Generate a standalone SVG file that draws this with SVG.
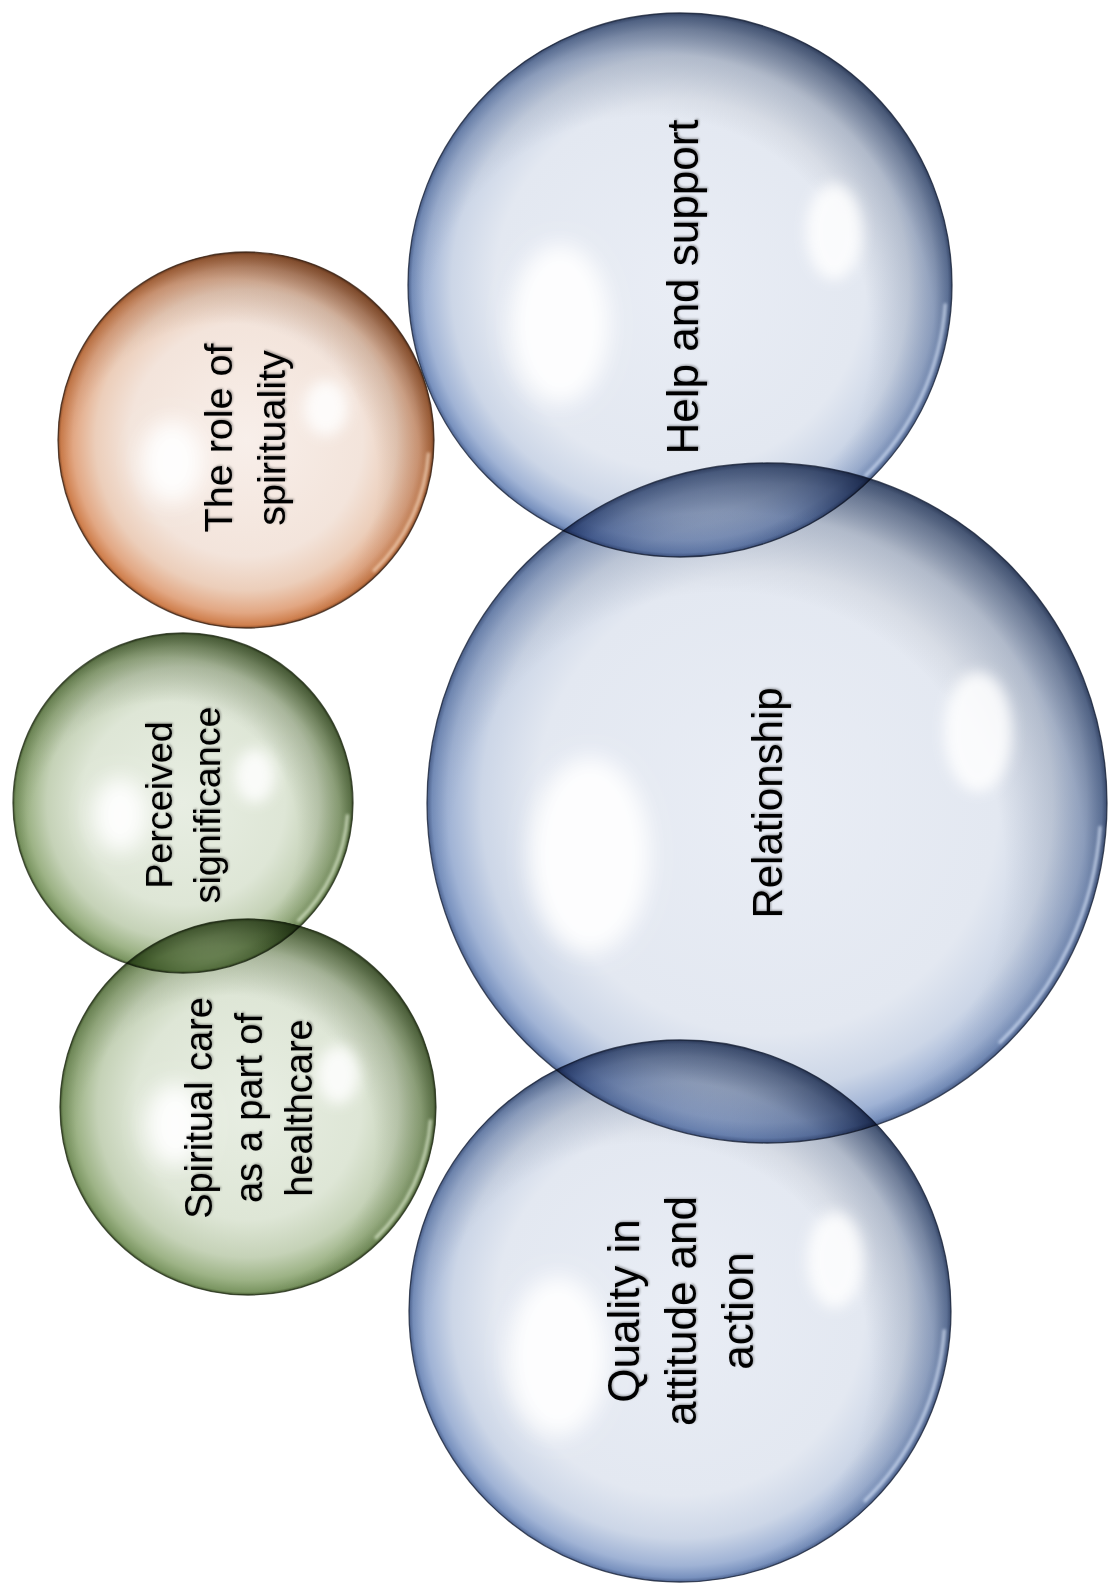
<svg xmlns="http://www.w3.org/2000/svg" width="1112" height="1585" viewBox="0 0 1112 1585">
<defs>
  <style>
    .bubble { mix-blend-mode: multiply; }
    .hlL { fill: #ffffff; opacity: 0.95; filter: url(#blurL); }
    .hlS { fill: #ffffff; opacity: 0.85; filter: url(#blurS); }
    .rim { fill: none; stroke-width: 3; opacity: 0.7; stroke-dasharray: 42 318; stroke-dashoffset: -4; filter: url(#blurR); }
    .edge { fill: none; stroke-width: 1.3; opacity: 0.8; }
    .blue .rim { stroke: #e2edff; }
    .blue .edge { stroke: #1c263b; }
    .orange .rim { stroke: #ffe6cf; }
    .orange .edge { stroke: #3a2315; }
    .green .rim { stroke: #eef9df; }
    .green .edge { stroke: #25311a; }
    text { font-family: "Liberation Sans", Arial, sans-serif; fill: #000000; text-anchor: middle; filter: url(#tshadow); }
  </style>
  <filter id="blurL" x="-60%" y="-60%" width="220%" height="220%"><feGaussianBlur stdDeviation="11"/></filter>
  <filter id="blurS" x="-60%" y="-60%" width="220%" height="220%"><feGaussianBlur stdDeviation="7"/></filter>
  <filter id="blurR" x="-20%" y="-20%" width="140%" height="140%"><feGaussianBlur stdDeviation="1.8"/></filter>
  <filter id="tshadow" x="-10%" y="-30%" width="120%" height="160%">
    <feDropShadow dx="1" dy="1" stdDeviation="1.2" flood-color="#000000" flood-opacity="0.35"/>
  </filter>

  <radialGradient id="bBlue" cx=".5" cy=".5" r=".5">
    <stop offset="0" stop-color="#e9edf5"/>
    <stop offset=".68" stop-color="#e3e8f1"/>
    <stop offset=".84" stop-color="#ccd6e7"/>
    <stop offset=".94" stop-color="#a0b3d5"/>
    <stop offset=".985" stop-color="#7891be"/>
    <stop offset="1" stop-color="#4d6390"/>
  </radialGradient>
  <radialGradient id="dBlue" cx=".44" cy=".6" r=".66" fx=".44" fy=".6">
    <stop offset="0" stop-color="#121826" stop-opacity="0"/>
    <stop offset=".62" stop-color="#121826" stop-opacity="0"/>
    <stop offset=".8" stop-color="#121826" stop-opacity=".15"/>
    <stop offset=".93" stop-color="#121826" stop-opacity=".5"/>
    <stop offset="1" stop-color="#121826" stop-opacity=".92"/>
  </radialGradient>

  <radialGradient id="bOrange" cx=".5" cy=".5" r=".5">
    <stop offset="0" stop-color="#f8efea"/>
    <stop offset=".62" stop-color="#f3e4db"/>
    <stop offset=".8" stop-color="#ecceba"/>
    <stop offset=".92" stop-color="#e2a783"/>
    <stop offset=".985" stop-color="#cf7f4d"/>
    <stop offset="1" stop-color="#8a4d2a"/>
  </radialGradient>
  <radialGradient id="dOrange" cx=".44" cy=".6" r=".66" fx=".44" fy=".6">
    <stop offset="0" stop-color="#2a160c" stop-opacity="0"/>
    <stop offset=".62" stop-color="#2a160c" stop-opacity="0"/>
    <stop offset=".8" stop-color="#2a160c" stop-opacity=".15"/>
    <stop offset=".93" stop-color="#2a160c" stop-opacity=".5"/>
    <stop offset="1" stop-color="#2a160c" stop-opacity=".92"/>
  </radialGradient>

  <radialGradient id="bGreen" cx=".5" cy=".5" r=".5">
    <stop offset="0" stop-color="#e8eee3"/>
    <stop offset=".6" stop-color="#dee6d6"/>
    <stop offset=".8" stop-color="#c5d2b7"/>
    <stop offset=".92" stop-color="#9db386"/>
    <stop offset=".985" stop-color="#7a9561"/>
    <stop offset="1" stop-color="#44582f"/>
  </radialGradient>
  <radialGradient id="dGreen" cx=".44" cy=".6" r=".66" fx=".44" fy=".6">
    <stop offset="0" stop-color="#18220f" stop-opacity="0"/>
    <stop offset=".6" stop-color="#18220f" stop-opacity="0"/>
    <stop offset=".8" stop-color="#18220f" stop-opacity=".18"/>
    <stop offset=".93" stop-color="#18220f" stop-opacity=".52"/>
    <stop offset="1" stop-color="#18220f" stop-opacity=".9"/>
  </radialGradient>
</defs>

<rect width="1112" height="1585" fill="#ffffff"/>

<g id="node-help" class="bubble blue">
  <circle cx="680" cy="285" r="272" fill="url(#bBlue)"/>
  <circle cx="680" cy="285" r="272" fill="url(#dBlue)"/>
  <ellipse class="hlL" cx="560" cy="324" rx="50" ry="80"/>
  <ellipse class="hlS" cx="834" cy="232" rx="28" ry="48"/>
  <circle class="rim" cx="680" cy="285" r="266" pathLength="360"/>
  <circle class="edge" cx="680" cy="285" r="272"/>
  <text transform="translate(698,287) rotate(-90)" font-size="44">Help and support</text>
</g>

<g id="node-relationship" class="bubble blue">
  <circle cx="767" cy="803" r="340" fill="url(#bBlue)"/>
  <circle cx="767" cy="803" r="340" fill="url(#dBlue)"/>
  <ellipse class="hlL" cx="590" cy="855" rx="60" ry="98"/>
  <ellipse class="hlS" cx="978" cy="732" rx="34" ry="60"/>
  <circle class="rim" cx="767" cy="803" r="334" pathLength="360"/>
  <circle class="edge" cx="767" cy="803" r="340"/>
  <text transform="translate(782,803) rotate(-90)" font-size="42">Relationship</text>
</g>

<g id="node-quality" class="bubble blue">
  <circle cx="680" cy="1311" r="271" fill="url(#bBlue)"/>
  <circle cx="680" cy="1311" r="271" fill="url(#dBlue)"/>
  <ellipse class="hlL" cx="558" cy="1356" rx="50" ry="80"/>
  <ellipse class="hlS" cx="835" cy="1260" rx="28" ry="48"/>
  <circle class="rim" cx="680" cy="1311" r="265" pathLength="360"/>
  <circle class="edge" cx="680" cy="1311" r="271"/>
  <text transform="translate(639,1311) rotate(-90)" font-size="44"><tspan x="0" y="0">Quality in</tspan><tspan x="0" dy="57">attitude and</tspan><tspan x="0" dy="57">action</tspan></text>
</g>

<g id="node-role" class="bubble orange">
  <circle cx="246" cy="440" r="188" fill="url(#bOrange)"/>
  <circle cx="246" cy="440" r="188" fill="url(#dOrange)"/>
  <ellipse class="hlL" cx="172" cy="462" rx="32" ry="42"/>
  <ellipse class="hlS" cx="326" cy="408" rx="22" ry="28"/>
  <circle class="rim" cx="246" cy="440" r="183" pathLength="360"/>
  <circle class="edge" cx="246" cy="440" r="188"/>
  <text transform="translate(232,438) rotate(-90)" font-size="39.5"><tspan x="0" y="0">The role of</tspan><tspan x="0" dy="53">spirituality</tspan></text>
</g>

<g id="node-perceived" class="bubble green">
  <circle cx="183" cy="803" r="170" fill="url(#bGreen)"/>
  <circle cx="183" cy="803" r="170" fill="url(#dGreen)"/>
  <ellipse class="hlL" cx="120" cy="815" rx="28" ry="38"/>
  <ellipse class="hlS" cx="255" cy="776" rx="20" ry="27"/>
  <circle class="rim" cx="183" cy="803" r="165" pathLength="360"/>
  <circle class="edge" cx="183" cy="803" r="170"/>
  <text transform="translate(172,805) rotate(-90)" font-size="37.7"><tspan x="0" y="0">Perceived</tspan><tspan x="0" dy="48">significance</tspan></text>
</g>

<g id="node-spiritual-care" class="bubble green">
  <circle cx="248" cy="1107" r="188" fill="url(#bGreen)"/>
  <circle cx="248" cy="1107" r="188" fill="url(#dGreen)"/>
  <ellipse class="hlL" cx="175" cy="1125" rx="30" ry="42"/>
  <ellipse class="hlS" cx="338" cy="1075" rx="21" ry="29"/>
  <circle class="rim" cx="248" cy="1107" r="183" pathLength="360"/>
  <circle class="edge" cx="248" cy="1107" r="188"/>
  <text transform="translate(212,1108) rotate(-90)" font-size="38"><tspan x="0" y="0">Spiritual care</tspan><tspan x="0" dy="50">as a part of</tspan><tspan x="0" dy="50">healthcare</tspan></text>
</g>
</svg>
